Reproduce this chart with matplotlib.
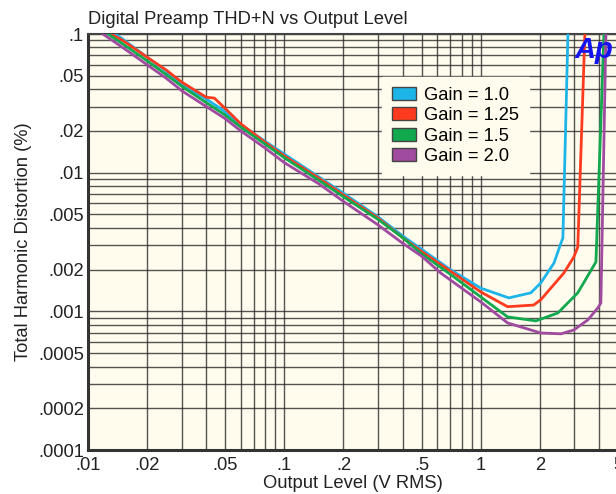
import matplotlib
matplotlib.use("Agg")
import matplotlib.pyplot as plt
from matplotlib.patches import Patch
from matplotlib.ticker import FixedLocator, LogLocator, NullFormatter

# data (output level V RMS, THD+N %)
x_blue = [0.01374, 0.015, 0.02, 0.025, 0.03, 0.04, 0.05, 0.06, 0.08, 0.1, 0.15, 0.2, 0.3, 0.4, 0.5, 0.7, 1.0,
          1.39, 1.8, 2.02, 2.36, 2.56, 2.62, 2.78, 2.82]
y_blue = [0.1, 0.092, 0.068, 0.054, 0.043, 0.034, 0.0275, 0.0222, 0.0168, 0.0136, 0.0093, 0.0071, 0.0048, 0.0035,
          0.0028, 0.0020, 0.00147, 0.00125, 0.00136, 0.0016, 0.00223, 0.0031, 0.00338, 0.1, 0.2]

x_red = [0.0131, 0.015, 0.02, 0.025, 0.03, 0.04, 0.044, 0.05, 0.06, 0.08, 0.1, 0.15, 0.2, 0.3, 0.4, 0.5, 0.7, 1.0,
         1.37, 1.86, 2.02, 2.65, 2.98, 3.12, 3.39, 3.42]
y_red = [0.1, 0.090, 0.068, 0.055, 0.045, 0.035, 0.0345, 0.029, 0.0225, 0.0165, 0.0132, 0.0091, 0.0069, 0.0047,
         0.0034, 0.0027, 0.00195, 0.00138, 0.00108, 0.00111, 0.00121, 0.00189, 0.00247, 0.00291, 0.1, 0.2]

x_green = [0.01265, 0.015, 0.02, 0.025, 0.03, 0.04, 0.05, 0.06, 0.08, 0.1, 0.15, 0.2, 0.3, 0.4, 0.5, 0.7, 1.0,
           1.37, 1.91, 2.47, 3.12, 3.86, 4.24, 4.27]
y_green = [0.1, 0.085, 0.064, 0.051, 0.042, 0.032, 0.026, 0.0213, 0.0160, 0.0128, 0.0088, 0.0067, 0.0046, 0.0034,
           0.0026, 0.00185, 0.00127, 0.000912, 0.000853, 0.000973, 0.00136, 0.00227, 0.1, 0.2]

x_purple = [0.0119, 0.015, 0.02, 0.025, 0.03, 0.04, 0.05, 0.06, 0.08, 0.1, 0.15, 0.2, 0.3, 0.4, 0.5, 0.625, 1.0,
            1.37, 2.02, 2.56, 2.98, 3.51, 3.95, 4.09, 4.34, 4.37]
y_purple = [0.1, 0.080, 0.060, 0.048, 0.039, 0.030, 0.0245, 0.020, 0.0150, 0.0118, 0.0083, 0.0062, 0.0042, 0.0031,
            0.0025, 0.00189, 0.00117, 0.000825, 0.000698, 0.000688, 0.000734, 0.000867, 0.00106, 0.00115, 0.1, 0.2]

labels = ["Gain = 1.0", "Gain = 1.25", "Gain = 1.5", "Gain = 2.0"]
colors = ["#1db4e8", "#ff3b1f", "#12a84e", "#a04aa0"]

x_ticks = [0.01, 0.02, 0.05, 0.1, 0.2, 0.5, 1, 2, 5]
x_tick_labels = [".01", ".02", ".05", ".1", ".2", ".5", "1", "2", "5"]
y_ticks = [0.0001, 0.0002, 0.0005, 0.001, 0.002, 0.005, 0.01, 0.02, 0.05, 0.1]
y_tick_labels = [".0001", ".0002", ".0005", ".001", ".002", ".005", ".01", ".02", ".05", ".1"]

plt.rcParams['font.family'] = ['Liberation Sans', 'DejaVu Sans']
FS = 13.2

fig = plt.figure(figsize=(6.16, 4.94), dpi=100)
ax = fig.add_axes([88 / 616, 44 / 494, 530 / 616, 416 / 494])
ax.set_facecolor("#fffcee")

for xs, ys, c in zip([x_blue, x_red, x_green, x_purple], [y_blue, y_red, y_green, y_purple], colors):
    ax.plot(xs, ys, color=c, lw=2.0, zorder=3)

ax.set_xscale("log")
ax.set_yscale("log")
ax.set_xlim(0.01, 5)
ax.set_ylim(0.0001, 0.1)

ax.xaxis.set_major_locator(FixedLocator(x_ticks))
ax.set_xticklabels(x_tick_labels)
ax.yaxis.set_major_locator(FixedLocator(y_ticks))
ax.set_yticklabels(y_tick_labels)
ax.xaxis.set_minor_locator(LogLocator(base=10, subs=range(1, 10), numticks=20))
ax.yaxis.set_minor_locator(LogLocator(base=10, subs=range(1, 10), numticks=20))
ax.xaxis.set_minor_formatter(NullFormatter())
ax.yaxis.set_minor_formatter(NullFormatter())
ax.tick_params(which="both", length=0, labelsize=FS, colors="#222222")
ax.tick_params(axis="x", pad=5)
ax.tick_params(axis="y", pad=3)

ax.grid(True, which="both", color="#2a2a2a", lw=1.0, alpha=0.8, zorder=1)
ax.set_axisbelow(True)

for side in ["left", "bottom"]:
    ax.spines[side].set_linewidth(2.2)
    ax.spines[side].set_color("#333333")
ax.spines["top"].set_linewidth(1.5)
ax.spines["top"].set_color("#444444")
ax.spines["right"].set_visible(False)

ax.set_xlabel("Output Level (V RMS)", fontsize=FS, color="#222222", labelpad=1)
ax.set_ylabel("Total Harmonic Distortion (%)", fontsize=FS, color="#222222", labelpad=4)
fig.text(88 / 616, 1 - 20 / 494, "Digital Preamp THD+N vs Output Level", fontsize=FS,
         color="#222222", va="center", ha="left")

handles = [Patch(facecolor=c, edgecolor="#444444", lw=1.0) for c in colors]
leg = ax.legend(handles, labels, loc="upper left", bbox_to_anchor=(0.555, 0.897), frameon=True,
                fontsize=FS, handlelength=1.3, handleheight=0.7, handletextpad=0.45, borderpad=0.55,
                labelspacing=0.18, borderaxespad=0, fancybox=False)
leg.get_frame().set_facecolor("#fffcee")
leg.get_frame().set_edgecolor("#fffcee")
leg.get_frame().set_alpha(1)
leg.set_zorder(5)

fig.text(594 / 616, 1 - 50 / 494, "Ap", fontsize=21, fontweight="bold", fontstyle="italic",
         color="#1414f0", ha="center", va="center")

fig.savefig("out.png", dpi=100)
